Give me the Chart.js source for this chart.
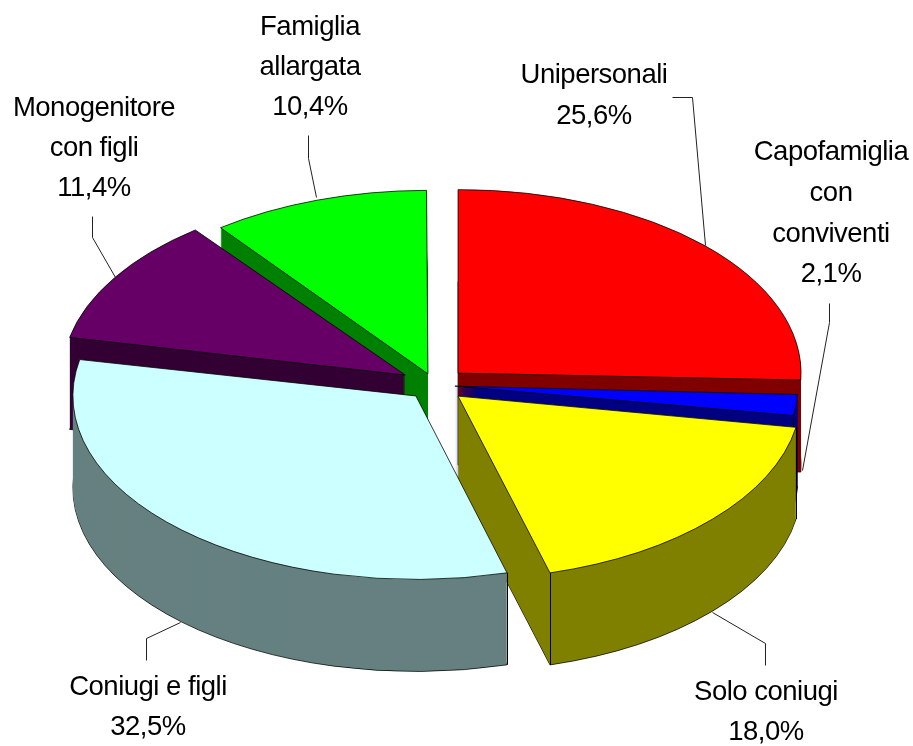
<!DOCTYPE html>
<html><head><meta charset="utf-8">
<style>html,body{margin:0;padding:0;background:#fff}canvas{display:block}</style>
<script src="https://cdn.jsdelivr.net/npm/chart.js@4"></script>
</head><body><canvas id="c" width="913" height="746"></canvas>
<script>
const categories = [["Unipersonali"],["Capofamiglia","con","conviventi"],["Solo coniugi"],["Coniugi e figli"],["Monogenitore","con figli"],["Famiglia","allargata"]];
const values = [25.6,2.1,18.0,32.5,11.4,10.4];
const topColors = ["#FF0000","#0000FF","#FFFF00","#CCFFFF","#660066","#00FF00"];
const wallColors = ["#800000","#000080","#808000","#668080","#330033","#008000"];
const explode = [128,80,124,112,140,88];
const drawOrder = [5,4,0,1,2,3];
const TILT = 0.535, DEPTH = 92, CY = 385;
const labelPos = [
 {x:594,y:[83,124]},{x:831,y:[160,201,242,282]},{x:766,y:[700,740]},
 {x:148,y:[695,735]},{x:94,y:[116,156,196]},{x:310,y:[35,75,115]}];
const leaders = [
 [[672,97],[692,97],[705,245]],[[829,303],[829,322],[802,470]],[[712,612],[765,643],[765,665]],
 [[180,622],[146,638],[146,660]],[[92,216],[92,237],[115,277]],[[308,135],[308,158],[316,197]]];

const pie3d = {
  id:'pie3d',
  beforeDatasetDraw(chart,args){
    const ctx = chart.ctx, arcs = args.meta.data;
    const midY = arcs[0].y;
    const withTilt = (dy,fn)=>{
      ctx.save();
      ctx.translate(0,CY+dy); ctx.scale(1,TILT); ctx.translate(0,-midY);
      fn(); ctx.restore();
    };
    const paint = (arc,fill,bw,dy)=>{
      const o = arc.options, r0 = arc.outerRadius;
      // ArcElement grows short slices by offset*fix; keep every slice at one radius
      const fix = 1 - Math.sin(Math.min(Math.PI, arc.circumference || 0));
      arc.outerRadius = r0 - (o.offset/4)*fix;
      arc.options = Object.assign({},o,{backgroundColor:fill,borderColor:'#000',borderWidth:bw});
      withTilt(dy,()=>arc.draw(ctx));
      arc.options = o; arc.outerRadius = r0;
    };
    for(const i of drawOrder){
      const arc = arcs[i];
      paint(arc,wallColors[i],1,DEPTH);
      for(let d=DEPTH-1;d>=1;d--) paint(arc,wallColors[i],0,d);
      const p = arc.getProps(['x','y','startAngle','endAngle','outerRadius']);
      const mid=(p.startAngle+p.endAngle)/2, off=arc.options.offset/4;
      const px=a=>p.x+Math.cos(mid)*off+Math.cos(a)*p.outerRadius;
      const py=a=>CY+(Math.sin(mid)*off+Math.sin(a)*p.outerRadius)*TILT;
      ctx.strokeStyle='#000';ctx.lineWidth=1;
      for(const a of [p.startAngle,p.endAngle]){
        if(Math.sin(a)>0.1){
          ctx.beginPath();ctx.moveTo(Math.round(px(a))+.5,py(a));ctx.lineTo(Math.round(px(a))+.5,py(a)+DEPTH);ctx.stroke();
        }
      }
      paint(arc,topColors[i],1,0);
    }
    return false;
  },
  afterDatasetsDraw(chart){
    const ctx = chart.ctx;
    ctx.save();
    ctx.strokeStyle='#222';ctx.lineWidth=1;
    leaders.forEach(l=>{ctx.beginPath();l.forEach((p,j)=>j?ctx.lineTo(p[0]+.5,p[1]+.5):ctx.moveTo(p[0]+.5,p[1]+.5));ctx.stroke();});
    ctx.fillStyle='#000';ctx.textAlign='center';ctx.textBaseline='alphabetic';
    ctx.font='27.5px "Liberation Sans", Arial, sans-serif';
    if('letterSpacing' in ctx) ctx.letterSpacing='-0.5px';
    categories.forEach((lines,i)=>{
      const all = lines.concat([values[i].toFixed(1).replace('.',',')+'%']);
      all.forEach((t,j)=>ctx.fillText(t,labelPos[i].x,labelPos[i].y[j]));
    });
    ctx.restore();
  }
};

new Chart(document.getElementById('c'),{
  type:'pie',
  data:{labels:categories,datasets:[{data:values,backgroundColor:topColors,offset:explode,borderWidth:1,borderColor:'#000'}]},
  options:{
    responsive:false,animation:false,radius:343,
    layout:{padding:{right:43}},
    plugins:{legend:{display:false},tooltip:{enabled:false}},
    events:[]
  },
  plugins:[pie3d]
});
</script></body></html>
